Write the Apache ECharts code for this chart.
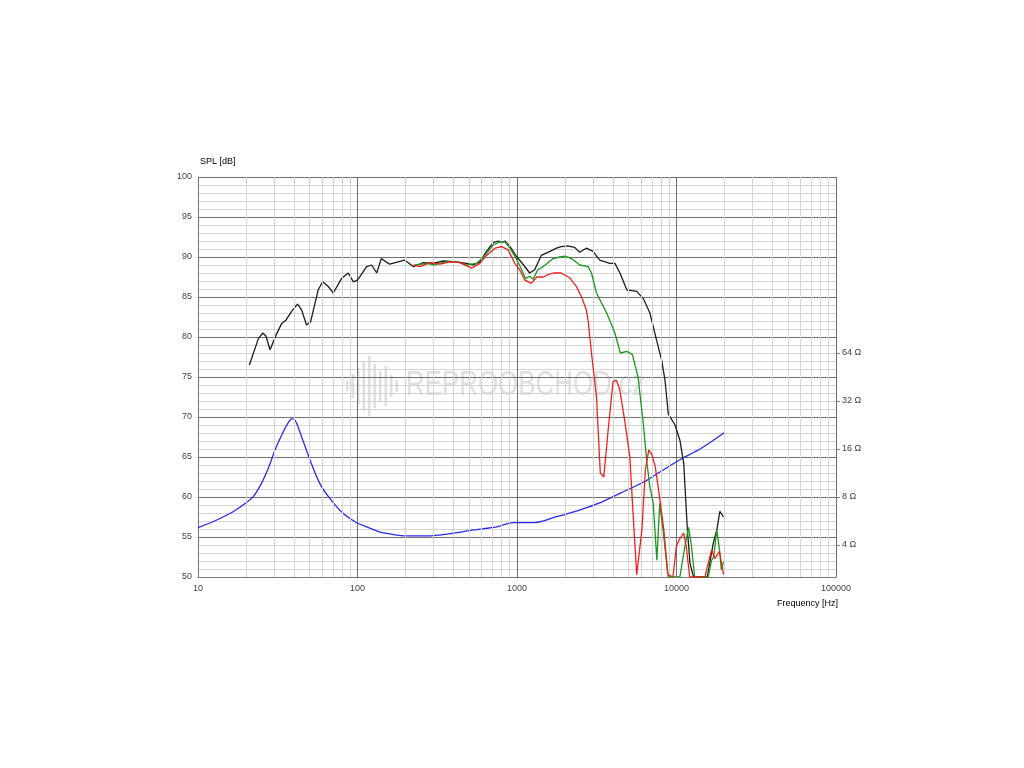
<!DOCTYPE html>
<html>
<head>
<meta charset="utf-8">
<script src="https://cdn.jsdelivr.net/npm/echarts@6/dist/echarts.min.js"></script>
<style>
  html, body { margin: 0; padding: 0; background: #fff; }
  #chart { width: 1024px; height: 768px; }
</style>
</head>
<body>
<div id="chart"></div>
<script>
// black curve (SPL, widest response)
const blackFreq = [21, 23.9, 25.5, 26.7, 28.3, 30.8, 33.5, 35.6, 38.6, 42.1, 44.6, 47.9, 50.8, 56.7, 60.5, 65.6, 70.5, 79.4, 87.5, 94.3, 100, 114, 122.6, 132, 141,
  159, 198, 224, 259, 298, 345, 419, 483, 532, 585, 644, 709, 763, 800, 840, 904, 1000, 1100, 1200, 1290, 1420, 1610, 1770, 1890, 2080, 2300, 2470, 2720, 3000,
  3300, 3820, 4110, 4420, 4880, 5630, 6190, 6810, 7500, 8070, 8470, 8880, 9790, 10500, 11100, 11700, 12150, 12800, 15600, 17000, 17900, 18700, 19700];
const blackSpl = [76.5, 79.8, 80.5, 80.1, 78.4, 80.2, 81.7, 82.1, 83.2, 84.1, 83.4, 81.5, 81.9, 85.9, 86.9, 86.3, 85.5, 87.3, 88.0, 86.9, 87.1, 88.8, 89.0, 88.0, 89.8,
  89.1, 89.6, 88.8, 89.3, 89.2, 89.5, 89.4, 89.2, 89.0, 89.4, 90.7, 91.8, 92.0, 91.8, 92.0, 91.3, 90.0, 89.0, 88.0, 88.4, 90.2, 90.7, 91.1, 91.3, 91.4, 91.2, 90.6, 91.1, 90.7,
  89.6, 89.2, 89.2, 88.0, 85.9, 85.7, 84.8, 83.0, 79.6, 77.1, 74.6, 70.4, 69.0, 67.1, 64.2, 55.9, 51.7, 50, 50, 54.2, 55.9, 58.2, 57.5];

// green curve
const greenFreq = [229, 272, 305, 353, 420, 483, 557, 630, 709, 780, 840, 904, 1000, 1070, 1130, 1200, 1260, 1350, 1460, 1570, 1690, 1860, 2000, 2200, 2470, 2790,
  2930, 3150, 3650, 4110, 4450, 4880, 5290, 5740, 6190, 6530, 6810, 7150, 7530, 7850, 8330, 8630, 8880, 10500, 11300, 11900, 12400, 13000, 15800, 16600, 17100, 17900, 18600, 19100, 19700];
const greenSpl = [89.0, 89.2, 89.0, 89.4, 89.4, 89.0, 89.2, 90.2, 91.5, 91.9, 91.9, 91.1, 89.6, 88.4, 87.3, 87.6, 87.2, 88.4, 88.8, 89.3, 89.8, 90.0, 90.1, 89.8, 89.0, 88.8,
  88.0, 85.5, 83.0, 80.5, 78.0, 78.2, 77.8, 75.0, 69.2, 64.2, 61.3, 59.2, 52.1, 59.2, 55.0, 52.1, 50, 50, 53.9, 56.2, 53.9, 50, 50, 52.1, 52.5, 55.9, 53.4, 50.9, 51.9];

// red curve
const redFreq = [224, 247, 284, 329, 380, 440, 519, 585, 644, 728, 800, 880, 970, 1040, 1120, 1230, 1330, 1460, 1570, 1690, 1890, 2140, 2360, 2540, 2720, 2790,
  2930, 3150, 3330, 3500, 3730, 4000, 4190, 4390, 4730, 5100, 5340, 5630, 6070, 6380, 6700, 7010, 7360, 7720, 8330, 8830, 9500, 10000, 10500, 11100, 11500, 12100,
  15100, 15800, 16600, 17400, 18600, 19000, 19700];
const redSpl = [89.0, 88.8, 89.3, 89.1, 89.4, 89.3, 88.6, 89.2, 90.2, 91.1, 91.3, 90.9, 89.2, 88.4, 87.1, 86.7, 87.5, 87.5, 87.8, 88.0, 88.0, 87.4, 86.3, 85.0, 83.4, 82.1,
  78.0, 72.5, 63.0, 62.5, 68.4, 74.4, 74.6, 73.6, 69.6, 65.0, 58.0, 50.3, 55.9, 63.4, 65.9, 65.3, 63.8, 60.9, 55.9, 50.3, 50, 53.9, 54.8, 55.5, 53.9, 50,
  50, 51.7, 53.4, 52.3, 53.2, 52.1, 50.3];

// impedance (ohm)
const impFreq = [10, 13.1, 16.6, 19.8, 22.2, 25.0, 27.6, 30.4, 33.5, 36.8, 38.6, 40.1, 44.6, 50.3, 58, 67, 81.2, 98.8, 114, 135, 160, 203, 272, 398, 532, 748, 948,
  1270, 1770, 2470, 3330, 4420, 6190, 8000, 10500, 14200, 20000];
const impOhm = [5.14, 5.74, 6.47, 7.30, 8.04, 9.74, 12.1, 15.8, 19.6, 23.4, 24.7, 24.6, 19.1, 13.7, 9.74, 7.85, 6.32, 5.52, 5.2, 4.86, 4.69, 4.56, 4.56, 4.74, 4.97, 5.2, 5.52,
  5.52, 6.02, 6.63, 7.37, 8.44, 9.9, 11.6, 13.7, 16.1, 20.3];

const freqTicks = [10, 100, 1000, 10000, 100000];
const ohmTicks = [4, 8, 16, 32, 64];
const minorFreqs = [];
[10, 100, 1000, 10000].forEach(d => { for (let k = 2; k <= 9; k++) minorFreqs.push(k * d); });

const zip = (a, b) => a.map((v, i) => [v, b[i]]);

const chart = echarts.init(document.getElementById('chart'));
const txt = { color: '#444', fontSize: 9, fontFamily: 'Liberation Sans, Arial, sans-serif' };
const wmColor = 'rgba(170,170,170,0.38)';

chart.setOption({
  animation: false,
  grid: { left: 198, top: 177, width: 638, height: 400, containLabel: false },
  xAxis: {
    type: 'log', logBase: 10, min: 10, max: 100000,
    axisLine: { show: true, lineStyle: { color: '#777' } },
    axisTick: { show: false },
    axisLabel: Object.assign({ margin: 7, formatter: v => String(Math.round(v)) }, txt),
    splitLine: { show: true, lineStyle: { color: '#707070', width: 1 } }
  },
  yAxis: [{
    type: 'value', min: 50, max: 100, interval: 5,
    axisLine: { show: true, lineStyle: { color: '#777' } },
    axisTick: { show: false },
    axisLabel: Object.assign({ margin: 6 }, txt),
    splitLine: { show: true, lineStyle: { color: '#707070', width: 1 } },
    minorTick: { show: false, splitNumber: 5 },
    minorSplitLine: { show: true, lineStyle: { color: '#d4d4d4', width: 1 } }
  }, {
    type: 'log', logBase: 2, min: 4 * Math.pow(2, -4 / 6), max: 4 * Math.pow(2, 46 / 6),
    position: 'right',
    axisLine: { show: false },
    axisTick: { show: true, length: 4, customValues: ohmTicks, lineStyle: { color: '#888' } },
    axisLabel: Object.assign({ margin: 6, customValues: ohmTicks, formatter: v => Math.round(v) + ' Ω' }, txt),
    splitLine: { show: false }
  }],
  graphic: [
    { type: 'text', left: 200, top: 157, style: Object.assign({ text: 'SPL [dB]' }, txt) },
    { type: 'text', right: 1024 - 838, top: 599, style: Object.assign({ text: 'Frequency [Hz]', textAlign: 'right' }, txt) },
    { type: 'text', x: 406, y: 368, scaleX: 0.74, z: -1, style: { text: 'REPROOBCHOD.cz', fill: wmColor, fontSize: 35, fontFamily: 'DejaVu Sans ExtraLight, Liberation Sans, sans-serif' } },
    { type: 'group', left: 346, top: 356, z: -1, children: [10, 24, 36, 50, 60, 44, 30, 40, 22, 12].map((h, i) => ({
      type: 'rect', shape: { x: i * 5.5, y: 30 - h / 2, width: 2.5, height: h }, style: { fill: wmColor }
    })) }
  ],
  series: [
    {
      type: 'line', name: 'grid', data: [], silent: true,
      markLine: {
        silent: true, symbol: 'none', label: { show: false },
        lineStyle: { color: '#d4d4d4', width: 1, type: 'solid' },
        data: minorFreqs.map(f => ({ xAxis: f }))
      }
    },
    { type: 'line', name: 'impedance', yAxisIndex: 1, data: zip(impFreq, impOhm), showSymbol: false, smooth: 0.3,
      lineStyle: { color: '#2b2bee', width: 1.3 }, z: 3 },
    { type: 'line', name: 'black', data: zip(blackFreq, blackSpl), showSymbol: false,
      lineStyle: { color: '#1c1c1c', width: 1.3 }, z: 4 },
    { type: 'line', name: 'green', data: zip(greenFreq, greenSpl), showSymbol: false,
      lineStyle: { color: '#1a9a1a', width: 1.3 }, z: 5 },
    { type: 'line', name: 'red', data: zip(redFreq, redSpl), showSymbol: false,
      lineStyle: { color: '#f02020', width: 1.3 }, z: 6 }
  ]
});
</script>
</body>
</html>
